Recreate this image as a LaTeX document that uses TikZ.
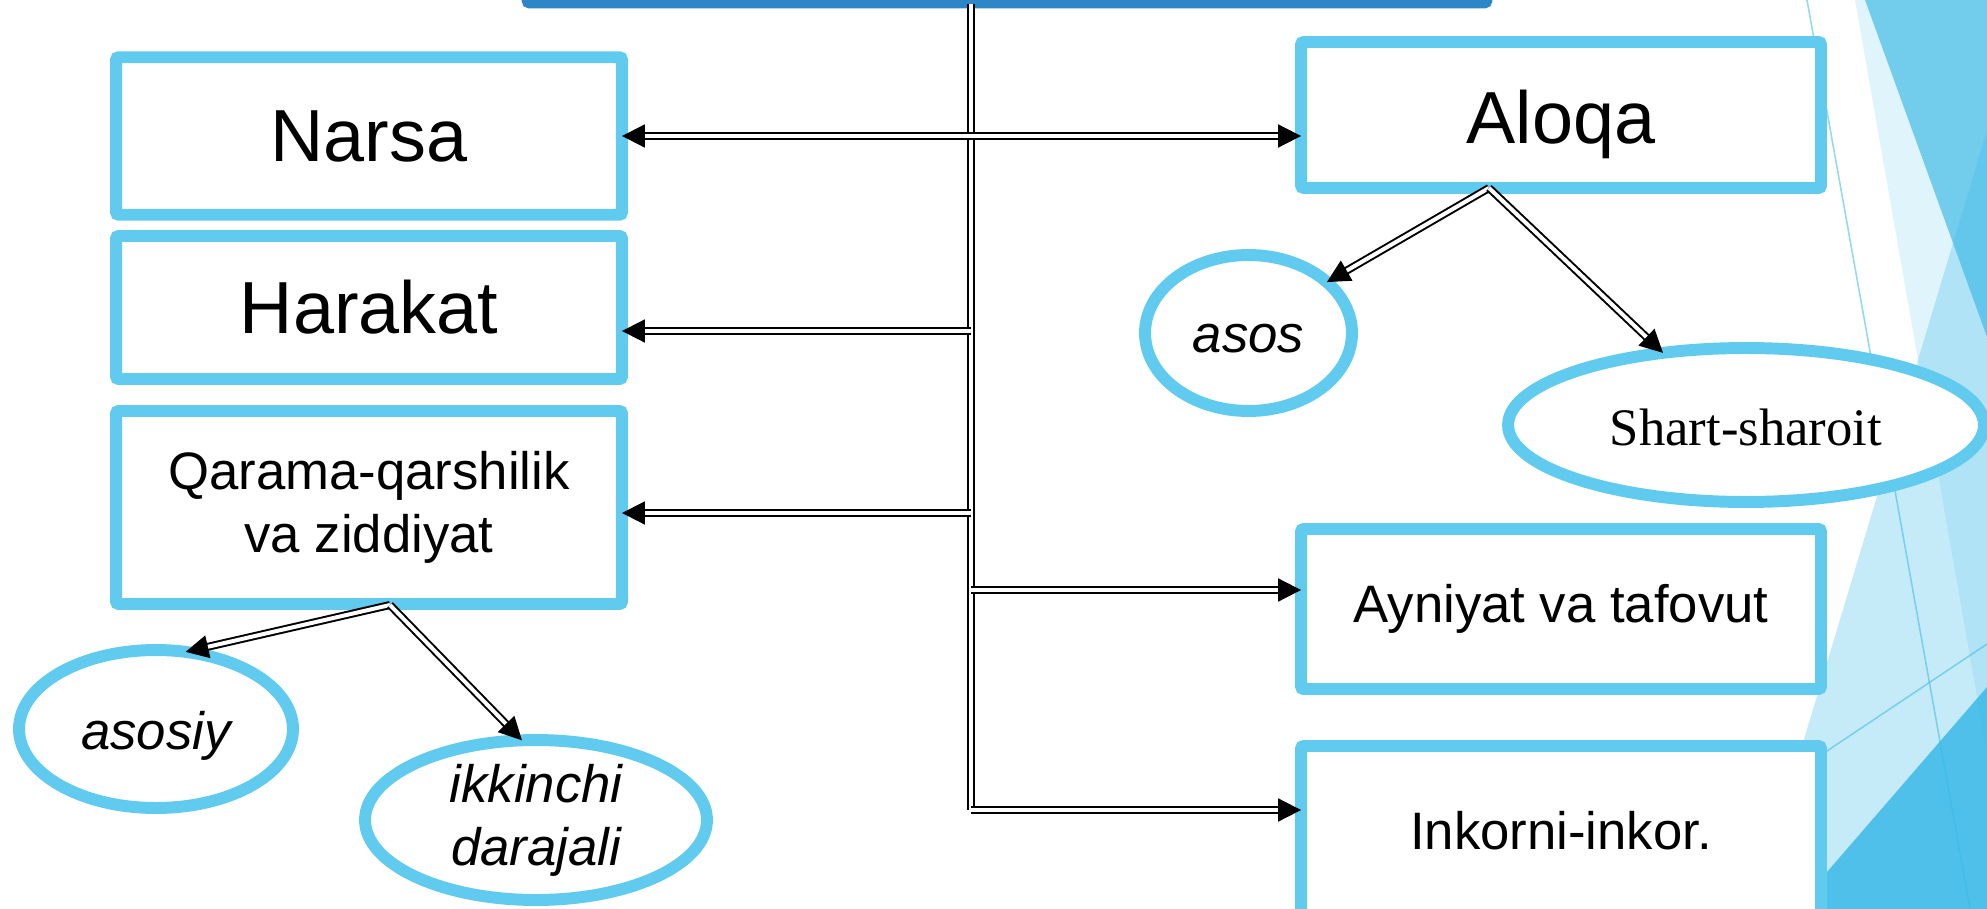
\documentclass[tikz,border=0pt]{standalone}
\usepackage{fontspec}
\setmainfont{Liberation Sans}
\newfontfamily\timesfont{Liberation Serif}
\usetikzlibrary{arrows.meta, shapes.geometric}
\definecolor{boxblue}{HTML}{61CBEF}
\definecolor{topblue}{HTML}{2E86C8}
\definecolor{decoblue}{HTML}{3AB9E6}

\begin{document}
\begin{tikzpicture}[x=0.02cm, y=-0.02cm, >={Triangle[length=13pt, width=13pt]},
        box/.style={draw=boxblue, line width=6.8pt, rounded corners=1.5pt, fill=white,
            outer sep=0pt, inner sep=0pt, minimum width=10.12cm},
        oval/.style={draw=boxblue, line width=6.8pt, ellipse, fill=white, outer sep=0pt,
            inner sep=0pt, align=center, font=\itshape\fontsize{30}{36}\selectfont},
        onerow/.style={text height=0.8cm, text depth=0pt},
        big/.style={font=\fontsize{42}{48}\selectfont},
        small/.style={font=\fontsize{30}{36}\selectfont, align=center},
        link/.style={draw=black, double=white, line width=1.13pt, double distance=2.27pt}]
    \useasboundingbox (0, 0) rectangle (1987, 909);
    \clip (0, 0) rectangle (1987, 909);

    % Background
    \fill[decoblue, opacity=0.16] (1855, 0) -- (1987, 0) -- (1987, 754) -- cycle;
    \fill[decoblue, opacity=0.66] (1865, 0) -- (1987, 0) -- (1987, 337) -- cycle;
    \fill[decoblue, opacity=0.29] (1987, 130) -- (1987, 909) -- (1753, 909) -- cycle;
    \fill[decoblue, opacity=0.86] (1987, 687) -- (1987, 909) -- (1795, 909) -- cycle;
    \draw[decoblue, opacity=0.55, line width=0.9pt] (1807, 0) -- (1970, 909);
    \draw[decoblue, opacity=0.55, line width=0.9pt] (1800, 769) -- (1987, 644);

    % Nodes
    \node[draw=topblue, line width=5.1pt, rounded corners=2pt, fill=white, outer sep=0pt,
        minimum width=19.24cm, minimum height=2.08cm] at (1007, -48) (root) {};

    \node[box, big, minimum height=3.15cm] at (369, 136) (narsa) {Narsa};
    \node[box, big, minimum height=2.86cm] at (369, 307.5) (harakat) {Harakat};
    \node[box, small, minimum height=3.86cm] at (369, 507.5) (qarama)
        {Qarama-qarshilik\\va ziddiyat};

    \node[box, big, minimum width=10.4cm, minimum height=2.92cm, text height=1.44cm]
        at (1561, 115) (aloqa) {Aloqa};
    \node[box, small, minimum width=10.4cm, minimum height=3.2cm] at (1561, 609) (ayniyat)
        {Ayniyat va tafovut};
    \node[box, small, minimum width=10.4cm, minimum height=3.38cm] at (1561, 830.5) (inkor)
        {Inkorni-inkor.};

    \node[oval, onerow, minimum width=4.14cm, minimum height=3.12cm] at (1248.5, 333) (asos) {asos};
    \node[oval, onerow, minimum width=9.52cm, minimum height=3.08cm,
        font=\timesfont\fontsize{30}{36}\selectfont] at (1746, 425) (shart) {Shart-sharoit};
    \node[oval, onerow, minimum width=5.48cm, minimum height=3.16cm] at (156, 729) (asosiy) {asosiy};
    \node[oval, minimum width=6.84cm, minimum height=3.2cm] at (536, 820) (ikkinchi)
        {ikkinchi\\darajali};

    % Edges
    \coordinate (t2) at (971, 331);
    \coordinate (t3) at (971, 513);
    \coordinate (t4) at (971, 590);
    \coordinate (t5) at (971, 810);
    \coordinate (afork) at (1489, 188);
    \coordinate (qfork) at (390, 605);

    \draw[link] (root.south -| t5) -- (t5);
    \draw[link, <->] (narsa.east) -- (narsa.east -| aloqa.west);
    \draw[link, ->] (t2) -- (t2 -| harakat.east);
    \draw[link, ->] (t3) -- (t3 -| qarama.east);
    \draw[link, ->] (t4) -- (t4 -| ayniyat.west);
    \draw[link, ->] (t5) -- (t5 -| inkor.west);

    \draw[link, ->] (afork) -- (asos.33);
    \draw[link, ->] (afork) -- (shart.139);
    \draw[link, ->] (qfork) -- (asosiy.69);
    \draw[link, ->] (qfork) -- (ikkinchi.100);
\end{tikzpicture}
\end{document}
